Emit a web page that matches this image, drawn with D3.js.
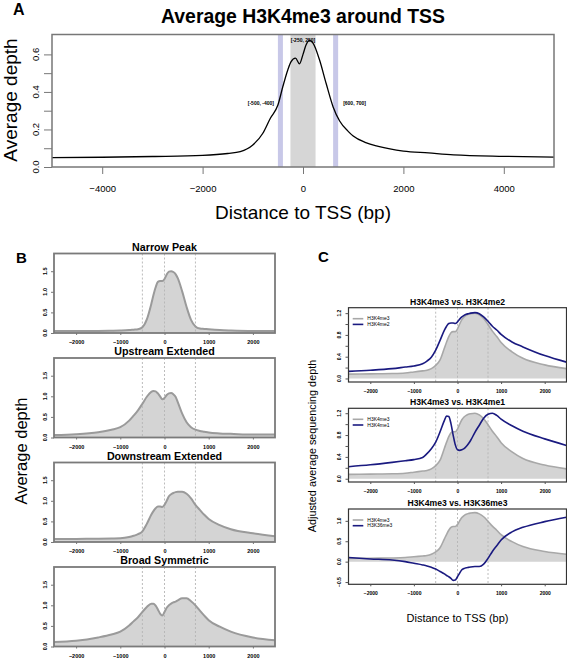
<!DOCTYPE html>
<html><head><meta charset="utf-8">
<script src="https://cdn.jsdelivr.net/npm/d3@7"></script>
<style>
body{margin:0;background:#fff}
svg{display:block}
text{font-family:"Liberation Sans",Arial,Helvetica,sans-serif;fill:#000}
</style>
</head><body>
<svg id="c" width="567" height="659"></svg>
<script>
// ---------- DATA ----------
// Panel A: average H3K4me3 around TSS
const aPos   = [-5000,-4000,-3000,-2000,-1500,-1250,-1000,-800,-650,-500,-400,-300,-240,-150,-70,0,60,130,200,330,460,600,730,900,1000,1250,1500,2000,2500,3000,4000,5000];
const aDepth = [0.050,0.052,0.056,0.062,0.072,0.082,0.117,0.18,0.26,0.33,0.43,0.52,0.56,0.58,0.55,0.60,0.65,0.675,0.66,0.57,0.446,0.32,0.245,0.19,0.165,0.13,0.11,0.085,0.075,0.065,0.057,0.053];
const aBands = [[-500,-400],[-250,250],[600,700]];
const aBandLabels = ["[-500, -400]","[-250, 250]","[600, 700]"];
const aXTicks = [-4000,-2000,0,2000,4000];
const aYTicks = [0,0.1,0.2,0.3,0.4,0.5,0.6];
const aYLabels = [0,0.2,0.4,0.6];

// Panels B and C share one position grid (bp)
const grid = [-2500,-2000,-1500,-1200,-1000,-800,-700,-600,-500,-400,-300,-250,-200,-150,-100,-50,0,50,100,150,200,250,300,400,500,600,700,800,900,1000,1250,1500,2000,2500];

// Panel B
const bTitles = ["Narrow Peak","Upstream Extended","Downstream Extended","Broad Symmetric"];
const bNarrow = [.05,.05,.05,.055,.06,.07,.08,.09,.14,.33,.70,.92,1.11,1.24,1.26,1.26,1.31,1.42,1.49,1.50,1.48,1.43,1.33,1.01,.63,.32,.16,.11,.10,.09,.07,.06,.05,.05];
const bUpstream = [.06,.08,.13,.19,.25,.41,.53,.66,.82,.99,1.11,1.13,1.12,1.07,1.00,.93,.96,1.03,1.07,1.08,1.05,.99,.86,.58,.37,.25,.19,.16,.14,.12,.10,.09,.07,.07];
const bDownstream = [.07,.075,.08,.085,.09,.12,.15,.19,.26,.44,.66,.75,.82,.86,.86,.85,.90,1.0,1.11,1.16,1.19,1.21,1.22,1.22,1.17,1.06,.90,.78,.66,.56,.41,.31,.21,.14];
const bBroad = [.11,.14,.22,.29,.36,.51,.61,.71,.84,.96,1.04,1.04,.99,.90,.80,.75,.84,.94,1.0,1.04,1.07,1.09,1.12,1.17,1.17,1.10,1.0,.87,.75,.64,.48,.36,.22,.15];
const bSeries = [bNarrow,bUpstream,bDownstream,bBroad];
const bXTicks = [-2000,-1000,0,1000,2000];
const bYTicks = [0,0.5,1,1.5];
const refLines = [-500,0,700];

// Panel C
const cTitles = ["H3K4me3 vs. H3K4me2","H3K4me3 vs. H3K4me1","H3K4me3 vs. H3K36me3"];
const cLegend = [["H3K4me3","H3K4me2"],["H3K4me3","H3K4me1"],["H3K4me3","H3K36me3"]];
const cMe3 = [.08,.085,.09,.10,.12,.14,.15,.18,.24,.34,.56,.67,.77,.84,.86,.86,.91,1.0,1.08,1.13,1.16,1.18,1.19,1.20,1.17,1.10,.99,.87,.77,.66,.49,.37,.25,.18];
const cMe2 = [.13,.15,.18,.21,.23,.27,.32,.39,.52,.70,.89,.96,1.01,1.02,1.02,1.01,1.04,1.09,1.13,1.16,1.18,1.19,1.20,1.21,1.19,1.13,1.05,.96,.89,.81,.67,.58,.42,.30];
const cMe1 = [.22,.255,.30,.33,.35,.39,.46,.55,.67,.86,1.07,1.15,1.14,1.01,.80,.62,.53,.52,.53,.55,.59,.64,.70,.85,.98,1.11,1.18,1.20,1.16,1.09,.97,.87,.73,.61];
const cMe36 = [.10,.066,.04,0,-.04,-.08,-.105,-.14,-.18,-.24,-.30,-.34,-.37,-.41,-.46,-.45,-.37,-.28,-.20,-.17,-.15,-.14,-.13,-.12,-.12,-.06,.08,.25,.39,.53,.73,.84,.98,1.09];
const cOther = [cMe2,cMe1,cMe36];
const cYDomains = [[-0.065,1.30],[-0.06,1.29],[-0.555,1.29]];
const cYTicks = [[0,0.2,0.4,0.6,0.8,1.0,1.2],[0,0.2,0.4,0.6,0.8,1.0,1.2],[-0.5,0,0.5,1.0]];
const cYLabels = [[0,0.4,0.8,1.2],[0,0.4,0.8,1.2],[-0.5,0,0.5,1.0]];

// ---------- DRAW ----------
const svg = d3.select("#c");
const fmtTick = d3.format(".1f");
const FONT = '"Liberation Sans",Arial,Helvetica,sans-serif';

// ===== Panel A =====
const A = {l:52,r:554,t:34.5,b:167};
const xA = d3.scaleLinear().domain([-5000,5000]).range([A.l,A.r]);
const yA = d3.scaleLinear().domain([0,0.706]).range([A.b,A.t]);
const gA = svg.append("g");
aBands.forEach((b,i)=>{
  gA.append("rect").attr("x",xA(b[0])).attr("y",A.t)
    .attr("width",xA(b[1])-xA(b[0])).attr("height",A.b-A.t)
    .attr("fill", i===1 ? "#d6d6d6" : "#c8c8e8");
});
gA.append("text").attr("x",xA(0)).attr("y",A.t+7).attr("text-anchor","middle")
  .attr("font-size",5).attr("font-weight","bold").text(aBandLabels[1]);
gA.append("text").attr("x",xA(aBands[0][0])-4).attr("y",yA(0.33)).attr("text-anchor","end")
  .attr("font-size",5).attr("font-weight","bold").text(aBandLabels[0]);
gA.append("text").attr("x",xA(aBands[2][1])+5).attr("y",yA(0.33)).attr("text-anchor","start")
  .attr("font-size",5).attr("font-weight","bold").text(aBandLabels[2]);
const lineA = d3.line().x((d,i)=>xA(aPos[i])).y(d=>yA(d)).curve(d3.curveMonotoneX);
gA.append("path").datum(aDepth).attr("d",lineA).attr("fill","none").attr("stroke","#000").attr("stroke-width",1.3);
// box
gA.append("rect").attr("x",A.l).attr("y",A.t).attr("width",A.r-A.l).attr("height",A.b-A.t)
  .attr("fill","none").attr("stroke","#777").attr("stroke-width",1.5);
// axes
const axA = gA.append("g").attr("transform",`translate(0,${A.b})`)
  .call(d3.axisBottom(xA).tickValues(aXTicks).tickSize(7).tickFormat(d3.format("")));
axA.select(".domain").remove();
axA.selectAll("line").attr("stroke","#777");
axA.selectAll("text").attr("font-size",9.5).attr("dy",0).attr("y",24.5).attr("font-family",FONT);
const ayA = gA.append("g").attr("transform",`translate(${A.l},0)`)
  .call(d3.axisLeft(yA).tickValues(aYTicks).tickSize(8).tickFormat(""));
ayA.select(".domain").remove();
ayA.selectAll("line").attr("stroke","#777");
aYLabels.forEach(v=>{
  gA.append("text").attr("transform",`translate(38.5,${yA(v)}) rotate(-90)`)
    .attr("text-anchor","middle").attr("font-size",9.5).text(fmtTick(v));
});
svg.append("text").attr("x",xA(0)).attr("y",23).attr("text-anchor","middle")
  .attr("font-size",21).attr("font-weight","bold").attr("textLength",284).attr("lengthAdjust","spacingAndGlyphs")
  .text("Average H3K4me3 around TSS");
svg.append("text").attr("x",13).attr("y",15).attr("font-size",16).attr("font-weight","bold").text("A");
svg.append("text").attr("transform","translate(17,100) rotate(-90)").attr("text-anchor","middle")
  .attr("font-size",19).text("Average depth");
svg.append("text").attr("x",xA(0)).attr("y",219).attr("text-anchor","middle")
  .attr("font-size",19).text("Distance to TSS (bp)");

// ===== Panel B =====
const Bl = 54, Br = 275;
bSeries.forEach((vals,k)=>{
  const top = 253.5 + k*104.5, bot = top + 79.5;
  const x = d3.scaleLinear().domain([-2500,2500]).range([Bl,Br]);
  const y = d3.scaleLinear().domain([0,1.93]).range([bot,top]);
  const g = svg.append("g");
  const area = d3.area().x((d,i)=>x(grid[i])).y0(y(0)).y1(d=>y(d)).curve(d3.curveMonotoneX);
  const line = d3.line().x((d,i)=>x(grid[i])).y(d=>y(d)).curve(d3.curveMonotoneX);
  g.append("path").datum(vals).attr("d",area).attr("fill","#d4d4d4");
  refLines.forEach(v=>{
    g.append("line").attr("x1",x(v)).attr("x2",x(v)).attr("y1",top).attr("y2",bot)
      .attr("stroke","#b4b4b4").attr("stroke-width",0.9).attr("stroke-dasharray","2,2");
  });
  g.append("path").datum(vals).attr("d",line).attr("fill","none").attr("stroke","#9a9a9a").attr("stroke-width",2);
  g.append("rect").attr("x",Bl).attr("y",top).attr("width",Br-Bl).attr("height",bot-top)
    .attr("fill","none").attr("stroke","#7a7a7a").attr("stroke-width",1.8);
  const ax = g.append("g").attr("transform",`translate(0,${bot})`)
    .call(d3.axisBottom(x).tickValues(bXTicks).tickSize(2).tickFormat(d3.format("")));
  ax.select(".domain").remove();
  ax.selectAll("line").attr("stroke","#777");
  ax.selectAll("text").attr("font-size",5.5).attr("font-weight","bold").attr("dy",0).attr("y",11).attr("font-family",FONT);
  const ay = g.append("g").attr("transform",`translate(${Bl},0)`)
    .call(d3.axisLeft(y).tickValues(bYTicks).tickSize(3).tickFormat(""));
  ay.select(".domain").remove();
  ay.selectAll("line").attr("stroke","#777");
  bYTicks.forEach(v=>{
    g.append("text").attr("transform",`translate(47,${y(v)}) rotate(-90)`).attr("text-anchor","middle")
      .attr("font-size",5.5).attr("font-weight","bold").text(fmtTick(v));
  });
  g.append("text").attr("x",x(0)).attr("y",top-3).attr("text-anchor","middle")
    .attr("font-size",10.7).attr("font-weight","bold").text(bTitles[k]);
});
svg.append("text").attr("x",16).attr("y",263).attr("font-size",15).attr("font-weight","bold").text("B");
svg.append("text").attr("transform","translate(27,451) rotate(-90)").attr("text-anchor","middle")
  .attr("font-size",16.5).text("Average depth");

// ===== Panel C =====
const Cl = 348.5, Cr = 566.5;
const cTops = [307.7,408.3,509], cBots = [382,482,584.3];
cOther.forEach((vals,k)=>{
  const top = cTops[k], bot = cBots[k];
  const x = d3.scaleLinear().domain([-2500,2500]).range([Cl,Cr]);
  const y = d3.scaleLinear().domain(cYDomains[k]).range([bot,top]);
  const g = svg.append("g");
  const area = d3.area().x((d,i)=>x(grid[i])).y0(y(0)).y1(d=>y(d)).curve(d3.curveMonotoneX);
  const line = d3.line().x((d,i)=>x(grid[i])).y(d=>y(d)).curve(d3.curveMonotoneX);
  g.append("path").datum(cMe3).attr("d",area).attr("fill","#d4d4d4");
  refLines.forEach(v=>{
    g.append("line").attr("x1",x(v)).attr("x2",x(v)).attr("y1",top).attr("y2",bot)
      .attr("stroke","#b4b4b4").attr("stroke-width",0.9).attr("stroke-dasharray","2,2");
  });
  g.append("path").datum(cMe3).attr("d",line).attr("fill","none").attr("stroke","#a8a8a8").attr("stroke-width",1.6);
  g.append("path").datum(vals).attr("d",line).attr("fill","none").attr("stroke","#1a1a80").attr("stroke-width",1.6);
  g.append("rect").attr("x",Cl).attr("y",top).attr("width",Cr-Cl).attr("height",bot-top)
    .attr("fill","none").attr("stroke","#333").attr("stroke-width",1.2);
  const ax = g.append("g").attr("transform",`translate(0,${bot})`)
    .call(d3.axisBottom(x).tickValues(bXTicks).tickSize(2).tickFormat(d3.format("")));
  ax.select(".domain").remove();
  ax.selectAll("line").attr("stroke","#555");
  ax.selectAll("text").attr("font-size",5).attr("font-weight","bold").attr("dy",0).attr("y",11).attr("font-family",FONT);
  const ay = g.append("g").attr("transform",`translate(${Cl},0)`)
    .call(d3.axisLeft(y).tickValues(cYTicks[k]).tickSize(3).tickFormat(""));
  ay.select(".domain").remove();
  ay.selectAll("line").attr("stroke","#555");
  cYLabels[k].forEach(v=>{
    g.append("text").attr("transform",`translate(341,${y(v)}) rotate(-90)`).attr("text-anchor","middle")
      .attr("font-size",5).attr("font-weight","bold").text(fmtTick(v));
  });
  g.append("text").attr("x",x(0)).attr("y",top-3).attr("text-anchor","middle")
    .attr("font-size",8.6).attr("font-weight","bold").text(cTitles[k]);
  // legend
  const lg = [["#a8a8a8",cLegend[k][0]],["#1a1a80",cLegend[k][1]]];
  lg.forEach((d,j)=>{
    const yy = top + 11 + j*5.7;
    g.append("line").attr("x1",352.7).attr("x2",363.3).attr("y1",yy).attr("y2",yy)
      .attr("stroke",d[0]).attr("stroke-width",1.6);
    g.append("text").attr("x",367.3).attr("y",yy+1.7).attr("font-size",5).text(d[1]);
  });
});
svg.append("text").attr("x",318).attr("y",262).attr("font-size",15).attr("font-weight","bold").text("C");
svg.append("text").attr("transform","translate(316,446) rotate(-90)").attr("text-anchor","middle")
  .attr("font-size",10.8).text("Adjusted average sequencing depth");
svg.append("text").attr("x",457.5).attr("y",622).attr("text-anchor","middle")
  .attr("font-size",11).text("Distance to TSS (bp)");
</script>
</body></html>
